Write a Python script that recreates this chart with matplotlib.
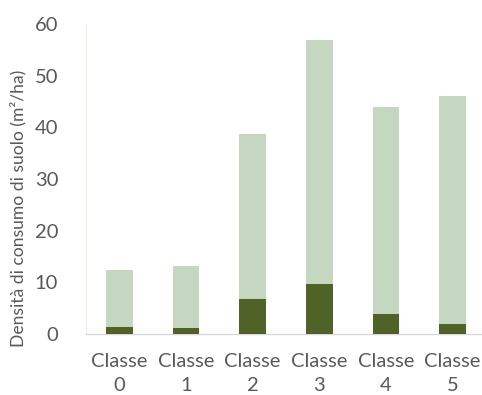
import matplotlib
matplotlib.use("Agg")
import matplotlib.pyplot as plt
import numpy as np

# Data
categories = ["Classe\n0", "Classe\n1", "Classe\n2", "Classe\n3", "Classe\n4", "Classe\n5"]
totale = [12.4, 13.2, 38.7, 56.9, 43.9, 46.1]
quota_scura = [1.35, 1.15, 6.8, 9.7, 3.8, 2.0]

light = "#C5D6C1"
dark = "#4F6228"
text_gray = "#595959"

plt.rcParams["font.family"] = ["Lato", "DejaVu Sans"]

fig = plt.figure(figsize=(4.82, 3.95), dpi=100)
ax = fig.add_axes([86 / 482, 1 - 334 / 395, 400 / 482, 310 / 395])

x = np.arange(len(categories))
ax.bar(x, totale, width=0.4, color=light, zorder=2)
ax.bar(x, quota_scura, width=0.4, color=dark, zorder=3)

ax.set_xlim(-0.5, len(categories) - 0.5)
ax.set_ylim(0, 60)
ax.set_yticks(range(0, 61, 10))
ax.set_xticks(x)
ax.set_xticklabels(categories, linespacing=1.45)

ax.tick_params(axis="both", length=0, labelsize=14.5, colors=text_gray)
ax.tick_params(axis="x", pad=14)
ax.tick_params(axis="y", pad=20)

ax.set_ylabel("Densità di consumo di suolo (m²/ha)", fontsize=12.6,
              color=text_gray)
ax.yaxis.set_label_coords(-0.15, 0.405)

for side in ["top", "right"]:
    ax.spines[side].set_visible(False)
ax.spines["left"].set_color("#F0EDE2")
ax.spines["bottom"].set_color("#D9D9D9")
ax.spines["bottom"].set_linewidth(1.0)

fig.savefig("out.png", dpi=100)
plt.close(fig)
